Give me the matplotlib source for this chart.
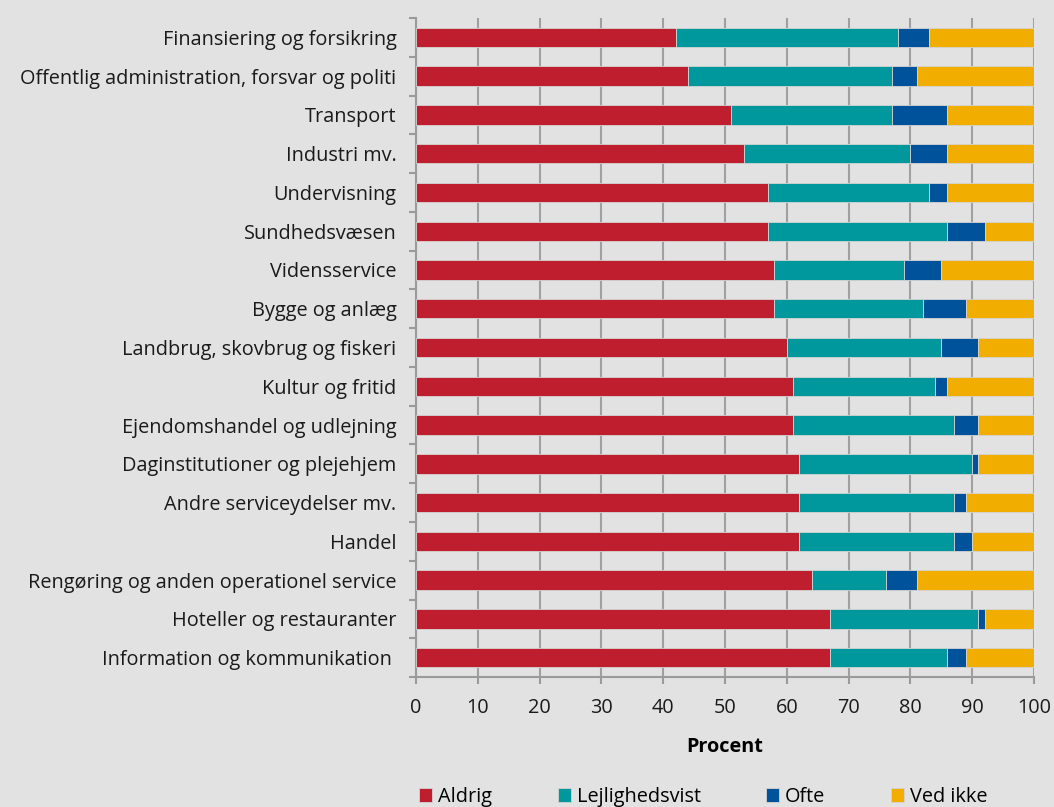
import numpy as np
import matplotlib.pyplot as plt
from matplotlib.ticker import FixedLocator

plt.rcParams['font.family'] = ['Open Sans', 'DejaVu Sans']

# Brancher (øverst til nederst)
brancher = [
    "Finansiering og forsikring",
    "Offentlig administration, forsvar og politi",
    "Transport",
    "Industri mv.",
    "Undervisning",
    "Sundhedsvæsen",
    "Vidensservice",
    "Bygge og anlæg",
    "Landbrug, skovbrug og fiskeri",
    "Kultur og fritid",
    "Ejendomshandel og udlejning",
    "Daginstitutioner og plejehjem",
    "Andre serviceydelser mv.",
    "Handel",
    "Rengøring og anden operationel service",
    "Hoteller og restauranter",
    "Information og kommunikation ",
]

aldrig = [42, 44, 51, 53, 57, 57, 58, 58, 60, 61, 61, 62, 62, 62, 64, 67, 67]
lejlighedsvist = [36, 33, 26, 27, 26, 29, 21, 24, 25, 23, 26, 28, 25, 25, 12, 24, 19]
ofte = [5, 4, 9, 6, 3, 6, 6, 7, 6, 2, 4, 1, 2, 3, 5, 1, 3]
ved_ikke = [17, 19, 14, 14, 14, 8, 15, 11, 9, 14, 9, 9, 11, 10, 19, 8, 11]

serier = [
    ("Aldrig", aldrig, "#BE1E2D"),
    ("Lejlighedsvist", lejlighedsvist, "#00979D"),
    ("Ofte", ofte, "#00529B"),
    ("Ved ikke", ved_ikke, "#F2AE00"),
]

bg = "#E2E2E2"
fs = 14.3
fig = plt.figure(figsize=(10.54, 8.07), dpi=100, facecolor=bg)
ax = fig.add_axes([0.3947, 0.161, 0.5863, 0.8167], facecolor=bg)

y = np.arange(len(brancher))
left = np.zeros(len(brancher))
for navn, vals, farve in serier:
    vals = np.array(vals, dtype=float)
    ax.barh(y, vals, left=left, height=0.5, color=farve, label=navn,
            edgecolor="#d4d4d4", linewidth=0.6, zorder=3)
    left += vals

ax.set_xlim(0, 100)
ax.set_ylim(len(brancher) - 0.5, -0.5)
ax.set_xticks(np.arange(0, 101, 10))
ax.set_yticks(y)
ax.set_yticklabels(brancher, fontsize=fs, color="#1a1a1a")
ax.yaxis.set_minor_locator(FixedLocator(np.arange(-0.5, len(brancher), 1)))
ax.tick_params(axis="y", which="major", length=0, pad=14)
ax.tick_params(axis="y", which="minor", length=5, width=1.5, color="#9a9a9a")
ax.tick_params(axis="x", length=5, width=1.5, color="#9a9a9a",
               labelsize=fs, labelcolor="#1a1a1a", pad=10)

ax.grid(axis="x", color="#a0a0a0", linewidth=1.5, zorder=0)
for side in ["top", "right"]:
    ax.spines[side].set_visible(False)
for side in ["left", "bottom"]:
    ax.spines[side].set_color("#9a9a9a")
    ax.spines[side].set_linewidth(1.5)

ax.set_xlabel("Procent", fontsize=fs, fontweight="bold", labelpad=14)

leg = fig.legend(loc="lower left", bbox_to_anchor=(0.381, -0.022), ncol=4,
                 frameon=False, fontsize=fs, handlelength=0.65,
                 handleheight=0.65, handletextpad=0.3, columnspacing=3.3)

fig.savefig("out.png", dpi=100, facecolor=bg)
